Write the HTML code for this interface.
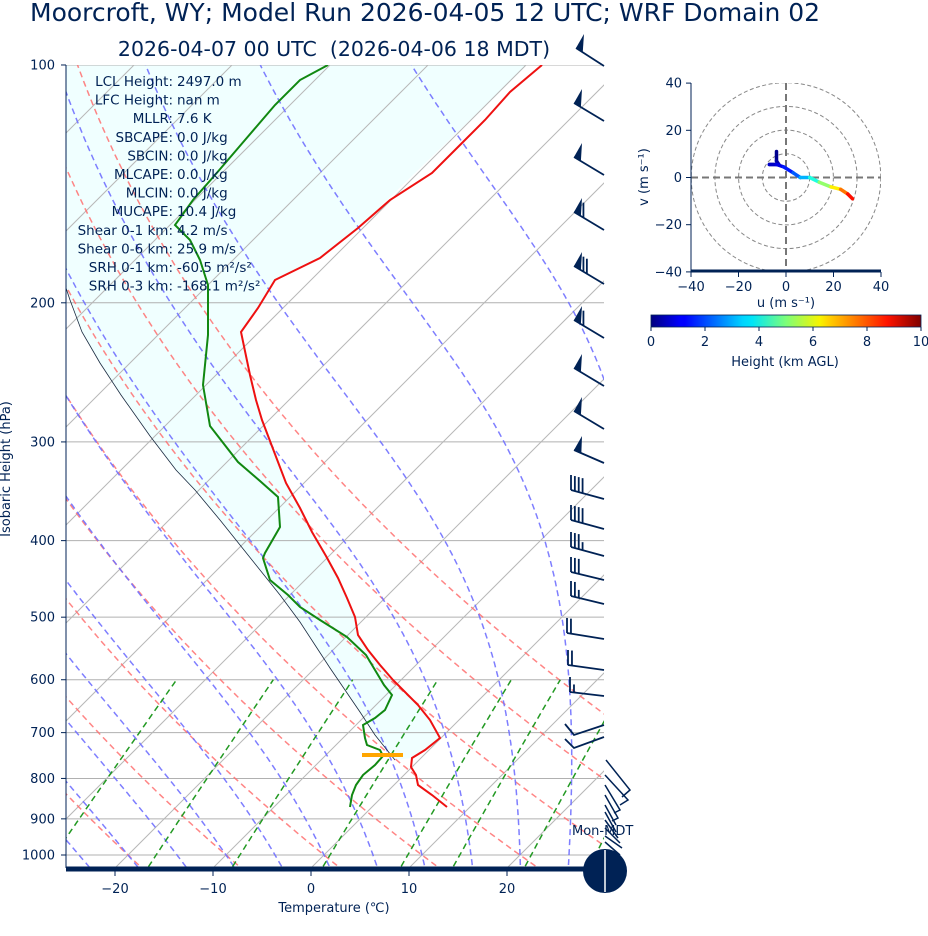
<!DOCTYPE html>
<html><head><meta charset="utf-8"><style>
html,body{margin:0;padding:0;background:#fff}
svg{display:block;font-family:"DejaVu Sans","Liberation Sans",sans-serif}
</style></head><body>
<svg id="s" width="928" height="936" viewBox="0 0 928 936" xmlns="http://www.w3.org/2000/svg">
<defs>
<clipPath id="cp"><rect x="66" y="65" width="538" height="803"/></clipPath>
<clipPath id="hc"><rect x="691" y="83" width="190" height="189"/></clipPath>
<linearGradient id="jet" x1="0" x2="1" y1="0" y2="0">
<stop offset="0" stop-color="#00007f"/><stop offset="0.11" stop-color="#0000ff"/><stop offset="0.125" stop-color="#0000ff"/>
<stop offset="0.34" stop-color="#00d4ff"/><stop offset="0.375" stop-color="#00e5f7"/><stop offset="0.5" stop-color="#7cff79"/>
<stop offset="0.625" stop-color="#f7f400"/><stop offset="0.66" stop-color="#ffd000"/><stop offset="0.875" stop-color="#ff1300"/><stop offset="1" stop-color="#7f0000"/>
</linearGradient>
</defs>
<text x="30" y="21" font-size="25" fill="#002255">Moorcroft, WY; Model Run 2026-04-05 12 UTC; WRF Domain 02</text>
<text x="334" y="56" font-size="20.5" fill="#002255" text-anchor="middle">2026-04-07 00 UTC &#160;(2026-04-06 18 MDT)</text>
<g id="plot" clip-path="url(#cp)"></g>
<g id="over"></g>
<g id="hodo"></g>
</svg>
<script>
const NS="http://www.w3.org/2000/svg";
function el(parent,tag,attrs,text){const e=document.createElementNS(NS,tag);for(const k in attrs)e.setAttribute(k,attrs[k]);if(text!==undefined)e.textContent=text;parent.appendChild(e);return e;}
const plot=document.getElementById('plot'),over=document.getElementById('over'),hodo=document.getElementById('hodo');
const Y=p=>855+343.1*Math.log(p/1000);
const X=(T,y)=>311+9.8*T+(868-y);
function pathFrom(pts){return pts.map((q,i)=>(i?'L':'M')+q[0].toFixed(1)+' '+q[1].toFixed(1)).join(' ');}
const red=[[447,807],[432,795],[418,785],[416,775],[411,767],[412,758],[425,750],[440,738],[430,720],[418,705],[405,692],[393,680],[380,665],[368,650],[358,635],[355,617],[347,598],[338,578],[326,556],[312,532],[300,508],[286,483],[278,462],[270,441],[262,420],[256,400],[250,375],[241,332],[258,308],[275,280],[320,258],[358,228],[390,200],[432,173],[460,145],[485,120],[510,92],[542,65]];
const green=[[350,807],[352,795],[356,785],[363,775],[375,765],[383,756],[380,750],[367,745],[365,738],[363,725],[375,718],[385,710],[392,695],[384,685],[375,670],[366,655],[347,637],[320,620],[300,607],[288,595],[270,580],[263,558],[265,553],[280,527],[278,497],[260,481],[238,462],[210,426],[203,385],[208,335],[208,285],[200,260],[190,240],[175,225],[193,200],[215,175],[245,140],[275,105],[300,80],[328,65]];
const parcel=[[395,760],[375,735],[360,712],[345,690],[330,668],[315,645],[300,622],[280,595],[260,570],[240,545],[220,520],[195,490],[176,470],[150,436],[121,395],[100,363],[82,332],[70,300],[66,288]];
let poly=[[66,65],[527,65],[358,228]];
red.filter(q=>q[1]>228&&q[1]<=758).sort((a,b)=>a[1]-b[1]).forEach(q=>poly.push(q));
poly.push([395,760]);parcel.slice(1).forEach(q=>poly.push(q));
el(plot,'path',{d:pathFrom(poly)+'Z',fill:'#f0ffff'});
[100,200,300,400,500,600,700,800,900,1000].forEach(p=>el(plot,'line',{x1:66,x2:604,y1:Y(p),y2:Y(p),stroke:'#b0b0b0','stroke-width':1}));
for(let T=-130;T<=40;T+=10){el(plot,'line',{x1:X(T,868),y1:868,x2:X(T,65),y2:65,stroke:'#b8b8b8','stroke-width':1});}
const ps=[];for(let p=1050;p>=95;p-=5)ps.push(p);
for(let th=223.15;th<=323.2;th+=10){const pts=ps.map(p=>{const T=th*Math.pow(p/1000,0.2857)-273.15;const y=Y(p);return[X(T,y),y];});
el(plot,'path',{d:pathFrom(pts),fill:'none',stroke:'#ff7070','stroke-width':1.5,'stroke-dasharray':'6,4',opacity:0.85});}
function es(Tc){return 6.112*Math.exp(17.67*Tc/(Tc+243.5));}
function dTdp(T,p){const Rd=287.04,Lv=2.501e6,Cp=1005.7,eps=0.622;const e=es(T-273.15);const rs=eps*e/(p-e);
return (Rd*T+Lv*rs)/p/(Cp+Lv*Lv*rs*eps/(Rd*T*T));}
for(let t0=-40;t0<=45;t0+=5){
 const up=[],dn=[];let T=t0+273.15;
 for(let p=1000;p>=100;p-=2){up.push([p,T]);T-=dTdp(T,p)*2;}
 T=t0+273.15;for(let p=1000;p<=1060;p+=2){dn.push([p,T]);T+=dTdp(T,p)*2;}
 const all=dn.reverse().concat(up).map(a=>{const y=Y(a[0]);return[X(a[1]-273.15,y),y];});
 el(plot,'path',{d:pathFrom(all),fill:'none',stroke:'#7070ff','stroke-width':1.5,'stroke-dasharray':'6,4',opacity:0.9});}
[0.0004,0.001,0.002,0.004,0.007,0.01,0.016,0.024,0.032].forEach(w=>{const pts=[];
 for(let p=1060;p>=600;p-=10){const e=w*p/(0.622+w);const l=Math.log(e/6.112);const Td=243.5*l/(17.67-l);const y=Y(p);pts.push([X(Td,y),y]);}
 el(plot,'path',{d:pathFrom(pts),fill:'none',stroke:'#229922','stroke-width':1.5,'stroke-dasharray':'6,4'});});
el(plot,'path',{d:pathFrom(parcel),fill:'none',stroke:'#1a2a40','stroke-width':0.8});
el(plot,'path',{d:pathFrom(red),fill:'none',stroke:'#ee1111','stroke-width':2});
el(plot,'path',{d:pathFrom(green),fill:'none',stroke:'#118811','stroke-width':2});
el(plot,'line',{x1:362,x2:403,y1:755,y2:755,stroke:'#ffa500','stroke-width':4});
const lines=[["LCL Height","2497.0 m"],["LFC Height","nan m"],["MLLR","7.6 K"],["SBCAPE","0.0 J/kg"],["SBCIN","0.0 J/kg"],["MLCAPE","0.0 J/kg"],["MLCIN","0.0 J/kg"],["MUCAPE","10.4 J/kg"],["Shear 0-1 km","4.2 m/s"],["Shear 0-6 km","25.9 m/s"],["SRH 0-1 km","-60.5 m²/s²"],["SRH 0-3 km","-168.1 m²/s²"]];
lines.forEach((l,i)=>{const y=86+i*18.6;el(over,'text',{x:173,y:y,'font-size':13.5,fill:'#002255','text-anchor':'end'},l[0]+':');el(over,'text',{x:177,y:y,'font-size':13.5,fill:'#002255'},l[1]);});
el(over,'line',{x1:66,x2:66,y1:65,y2:868,stroke:'#002255','stroke-width':1});
el(over,'line',{x1:66,x2:604,y1:869,y2:869,stroke:'#002255','stroke-width':5});
[100,200,300,400,500,600,700,800,900,1000].forEach(p=>{const y=Y(p);el(over,'line',{x1:61,x2:66,y1:y,y2:y,stroke:'#002255'});
 el(over,'text',{x:55,y:y+4.5,'font-size':13,fill:'#002255','text-anchor':'end'},p);});
[-20,-10,0,10,20].forEach(T=>{const x=311+9.8*T;el(over,'line',{x1:x,x2:x,y1:870,y2:876,stroke:'#002255'});
 el(over,'text',{x:x,y:893,'font-size':13,fill:'#002255','text-anchor':'middle'},T<0?'−'+(-T):T);});
el(over,'text',{x:334,y:912,'font-size':13,fill:'#002255','text-anchor':'middle'},'Temperature (℃)');
el(over,'text',{x:0,y:0,'font-size':13,fill:'#002255','text-anchor':'middle',transform:'translate(10,469) rotate(-90)'},'Isobaric Height (hPa)');
const C='#002255';
function barb(by,tx,ty,flags,full,half){const bx=604;el(over,'line',{x1:bx,y1:by,x2:tx,y2:ty,stroke:C,'stroke-width':1.8});
 const L=Math.hypot(bx-tx,by-ty),ux=(bx-tx)/L,uy=(by-ty)/L;
 let d=0;for(let i=0;i<flags;i++){const ax=tx+ux*d,ay=ty+uy*d,bx2=tx+ux*(d+8),by2=ty+uy*(d+8);
  el(over,'path',{d:`M${ax} ${ay}L${ax+8} ${ay-14}L${bx2} ${by2}Z`,fill:C});d+=11;}
 for(let i=0;i<full;i++){const ax=tx+ux*d,ay=ty+uy*d;el(over,'line',{x1:ax,y1:ay,x2:ax,y2:ay-15,stroke:C,'stroke-width':1.8});d+=4;}
 for(let i=0;i<half;i++){const ax=tx+ux*d,ay=ty+uy*d;el(over,'line',{x1:ax,y1:ay,x2:ax,y2:ay-8,stroke:C,'stroke-width':1.8});d+=4;}}
[[66,576,48,1,0,0],[121,574,103,1,0,0],[175,574,157,1,0,0],[230,574,212,1,1,0],[284,574,266,1,2,0],[338,574,320,1,1,0],[386,574,368,1,0,0],[429,574,411,1,0,0],[463,574,450,1,0,0]].forEach(b=>barb(...b));
[[499,571,490,0,4,0],[529,571,520,0,4,0],[556,571,547,0,3,1],[580,571,572,0,3,0],[604,571,596,0,2,1],[639,567,633,0,2,0],[670,568,665,0,2,0],[696,570,692,0,1,1]].forEach(b=>barb(...b));
[[604,725,574,735,565,724],[604,737,574,748,565,739]].forEach(b=>{el(over,'path',{d:`M${b[0]} ${b[1]}L${b[2]} ${b[3]}L${b[4]} ${b[5]}`,fill:'none',stroke:C,'stroke-width':1.8});});
[[606,760,630,790,622,797],[605,775,628,800,620,805],[605,785,620,810,614,813],[605,795,618,818,612,821],[605,805,616,825],[605,812,616,832],[605,820,618,838],[605,828,620,843],[605,836,622,848],[605,842,620,855]].forEach(b=>{let d=`M${b[0]} ${b[1]}L${b[2]} ${b[3]}`;if(b.length>4)d+=`L${b[4]} ${b[5]}`;el(over,'path',{d:d,fill:'none',stroke:C,'stroke-width':1.5});});
el(over,'text',{x:572,y:835,'font-size':13,fill:'#002255'},'Mon-MDT');
el(over,'circle',{cx:605,cy:871,r:22,fill:C});
el(over,'line',{x1:605,x2:605,y1:850,y2:892,stroke:'#fff','stroke-width':1.5});
const hx=u=>786+u*2.375,hy=v=>177.5-v*2.36;
const hg=el(hodo,'g',{'clip-path':'url(#hc)'});
[10,20,30,40].forEach(r=>el(hg,'circle',{cx:786,cy:177.5,r:r*2.37,fill:'none',stroke:'#888','stroke-width':1,'stroke-dasharray':'4,2.5'}));
el(hg,'line',{x1:691,x2:881,y1:177.5,y2:177.5,stroke:'#777','stroke-width':2,'stroke-dasharray':'7,4'});
el(hg,'line',{x1:786,x2:786,y1:83,y2:272,stroke:'#777','stroke-width':2,'stroke-dasharray':'7,4'});
const hp=[[-4,11,0],[-4,7,0.3],[-3,5.5,0.5],[-7,5.5,0.6],[-4,5.5,0.8],[-1,4.5,1.2],[3,2,1.8],[6,0,2.5],[10,0,3.5],[14,-2,4.6],[19,-4,5.8],[23,-5,7],[26,-7,8.2],[28,-9,9]];
function jet(h){const t=h/10;const r=Math.max(0,Math.min(1,1.5-Math.abs(4*t-3))),g=Math.max(0,Math.min(1,1.5-Math.abs(4*t-2))),b=Math.max(0,Math.min(1,1.5-Math.abs(4*t-1)));return `rgb(${r*255|0},${g*255|0},${b*255|0})`;}
for(let i=0;i<hp.length-1;i++){el(hg,'line',{x1:hx(hp[i][0]),y1:hy(hp[i][1]),x2:hx(hp[i+1][0]),y2:hy(hp[i+1][1]),stroke:jet((hp[i][2]+hp[i+1][2])/2),'stroke-width':3.5,'stroke-linecap':'round'});}
el(hodo,'line',{x1:691,x2:691,y1:83,y2:272,stroke:C,'stroke-width':1});
el(hodo,'line',{x1:691,x2:881,y1:271,y2:271,stroke:C,'stroke-width':3});
[-40,-20,0,20,40].forEach(u=>{const x=hx(u);el(hodo,'line',{x1:x,x2:x,y1:272,y2:277,stroke:C});el(hodo,'text',{x:x,y:291,'font-size':13,fill:C,'text-anchor':'middle'},u<0?'−'+(-u):u);
 const y=hy(u);el(hodo,'line',{x1:686,x2:691,y1:y,y2:y,stroke:C});el(hodo,'text',{x:682,y:y+4.5,'font-size':13,fill:C,'text-anchor':'end'},u<0?'−'+(-u):u);});
el(hodo,'text',{x:786,y:307,'font-size':13,fill:C,'text-anchor':'middle'},'u (m s⁻¹)');
el(hodo,'text',{x:0,y:0,'font-size':13,fill:C,'text-anchor':'middle',transform:'translate(648,177) rotate(-90)'},'v (m s⁻¹)');
el(hodo,'rect',{x:651,y:315,width:270,height:12,fill:'url(#jet)',stroke:C,'stroke-width':0.8});
for(let k=0;k<=10;k+=2){const x=651+270*k/10;el(hodo,'line',{x1:x,x2:x,y1:327,y2:331,stroke:C});el(hodo,'text',{x:x,y:346,'font-size':13,fill:C,'text-anchor':'middle'},k);}
el(hodo,'text',{x:785,y:366,'font-size':13,fill:C,'text-anchor':'middle'},'Height (km AGL)');
</script>
</body></html>
